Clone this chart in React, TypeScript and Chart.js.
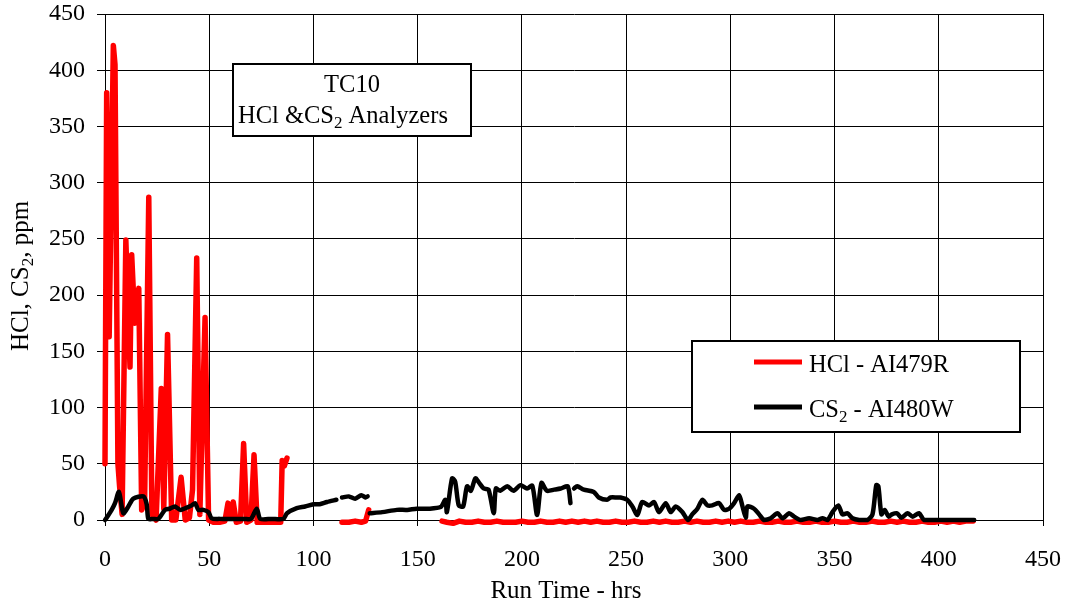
import React, { useEffect, useRef } from "react";
import { Chart, registerables } from "chart.js";

Chart.register(...registerables);

const SERIF = '"Liberation Serif", "Times New Roman", Times, serif';

// ---- Data ----
const hclHours = [
  0, 0.8, 2, 4, 4.8, 6.2, 7, 8.2, 10, 12, 12.8, 14.3, 16.2, 17.6, 19, 21, 22.5, 24.5, 27, 28.2,
  30, 32, 34, 36.5, 38.5, 40.5, 42, 44, 45.5, 48, 49.7, 52, 55, 57.5, 59, 60.3, 61.5, 63, 65,
  66.5, 68, 70, 71.5, 73, 76, 80, 84.3, 85, 86, 87.3, 100,
  113.7, 117, 120, 123, 125, 126.5, 140,
  161.7, 164, 167, 170, 173, 176, 179, 182, 185, 188, 191, 194, 197, 200, 203, 206, 209, 212,
  215, 218, 221, 224, 227, 230, 233, 236, 239, 242, 245, 248, 251, 254, 257, 260, 263, 266,
  269, 272, 275, 278, 281, 284, 287, 290, 293, 296, 299, 302, 305, 308, 311, 314, 317, 320,
  323, 326, 329, 332, 335, 338, 341, 344, 347, 350, 353, 356, 359, 362, 365, 368, 371, 374,
  377, 380, 383, 386, 389, 392, 395, 398, 401, 404, 407, 410, 413, 416.5,
];
const hclValues = [
  50, 380, 163, 422, 405, 50, 30, 5, 249, 136, 236, 175, 206, 9, 15, 287, 5, 0, 117, 10,
  165, 0, 0, 38, 0, 2, 27, 233, 5, 180, 0, -2, -2, -1, 15, 2, 16, -2, -1,
  68, -2, 0, 58, -2, -2, -2, -2, 53, 48, 55, null,
  -2, -2, -1, -2, -1, 9, null,
  -1, -2, -3, -1, -2, -2, -1, -2, -2, -1, -2, -2, -2, -1, -2, -2, -1, -2,
  -2, -1, -2, -1, -2, -1, -2, -1, -2, -2, -1, -2, -2, -1, -2, -2, -1, -2,
  -1, -2, -2, -1, -2, -1, -2, -2, -1, -2, -1, -2, -1, -2, -2, -1, -2, -2,
  -1, -2, -2, -1, -2, -2, -1, -2, -2, -1, -2, -2, -1, -2, -2, -1, -2, -2,
  -1, -2, -1, -2, -2, -1, -2, -2, -1, -2, -1, -2, -1, -1,
];

const cs2Hours = [
  0, 0.8, 3.2, 4.8, 6.7, 8.8, 11.2, 13.6, 18.4, 20, 20.8, 23, 25.6, 28.8, 31, 33.6, 36, 39.2,
  41.6, 43.2, 44.8, 47.2, 49.6, 51.2, 55, 60, 67, 70, 72.8, 74.5, 80, 85.6, 87.3, 92, 96, 100,
  103, 106.5, 111, 112.5,
  113.7, 117, 120, 123, 125, 126, 126.6,
  127, 133, 140, 145, 149.5, 155, 161, 163.3, 164, 166.5, 168, 169.7, 171.8, 173.7, 175.5,
  177.7, 179.5, 181.7, 184, 186.5, 187.5, 189.6, 193, 196, 199.3, 202.5, 205, 207.3, 209.4,
  212, 215.5, 218.6, 222, 223.3, 224.2,
  225, 226.5, 229.7, 234.5, 236.9, 240.9, 242.5, 245.7, 247.3, 250.5, 253, 255.4, 257.7, 261,
  263.4, 265.8, 269, 271.4, 273.8, 277, 279.7, 281.7, 284.2, 286.6, 289, 291.4, 294.6, 297,
  299.4, 301.8, 304.2, 305.7, 307.4, 308.2, 311.4, 313.8, 316.2, 319.4, 322.6, 325, 328.2,
  330.6, 333.8, 337.8, 341.8, 344.2, 346.6, 349, 351.8, 353.8, 356.2, 358.6, 361.8, 365.8,
  368.2, 370, 371, 372.5, 374, 376, 377.5, 380, 382, 385, 387.5, 390.5, 393, 400, 410, 417,
];
const cs2Values = [
  0, 2, 9, 15, 25, 6, 12, 19, 21, 14, 1, 1, 1, 9, 10, 12, 9, 11,
  13, 15, 9, 9, 7, 1.5, 1, 1, 1, 1, 10, 1, 1, 1, 6, 10.5, 12, 14,
  14, 16, 18, null,
  20, 21, 19, 22, 20, 21, null,
  6, 7, 9, 9, 10, 10, 11.5, 18, 7, 37, 34, 13, 12, 30, 26,
  37, 33, 28, 27, 6, 28, 26, 30, 26, 31, 28, 30.5, 4.5, 33,
  26, 27, 28, 30, 15, null,
  28, 30, 27, 25, 20, 18, 20, 20, 20, 18, 12, 4.5, 16, 13,
  16, 7, 15, 7, 12, 7, 0, 5, 10, 18, 13, 13, 15, 9,
  10, 15, 22, 13, 2, 12, 10, 5, 0, 1.5, 6, 1.5, 6,
  3, 0, 1.5, 0, 1.5, 0, 7, 13, 5, 6, 1.5, 0, 0,
  5, 31, 30, 5, 9, 3, 5, 6, 2, 6, 3, 6, 0, 0, 0, 0,
];

const xTickValues = [0, 50, 100, 150, 200, 250, 300, 350, 400, 450];
const yTickValues = [0, 50, 100, 150, 200, 250, 300, 350, 400, 450];

const seriesLabels = ["HCl - AI479R", "CS2 - AI480W"];
const seriesColors = ["#ff0000", "#000000"];
const xTitle = "Run Time - hrs";
const yTitle = "HCl, CS2, ppm";
const boxLines = ["TC10", "HCl &CS2 Analyzers"];

// ---- Rich text helpers (subscript "2" after "CS") ----
type Part = { t: string; sub?: boolean };
function toParts(s: string): Part[] {
  const parts: Part[] = [];
  const re = /CS2/g;
  let last = 0;
  let m: RegExpExecArray | null;
  while ((m = re.exec(s))) {
    parts.push({ t: s.slice(last, m.index) + "CS" });
    parts.push({ t: "2", sub: true });
    last = m.index + 3;
  }
  parts.push({ t: s.slice(last) });
  return parts.filter((p) => p.t.length > 0);
}
function fontFor(size: number, sub?: boolean) {
  return `${sub ? Math.round(size * 0.68) : size}px ${SERIF}`;
}
function richWidth(ctx: CanvasRenderingContext2D, parts: Part[], size: number) {
  let w = 0;
  for (const p of parts) {
    ctx.font = fontFor(size, p.sub);
    w += ctx.measureText(p.t).width;
  }
  return w;
}
function drawRich(ctx: CanvasRenderingContext2D, parts: Part[], x: number, y: number, size: number) {
  let cx = x;
  for (const p of parts) {
    ctx.font = fontFor(size, p.sub);
    ctx.fillText(p.t, cx, p.sub ? y + size * 0.22 : y);
    cx += ctx.measureText(p.t).width;
  }
}

const overlayPlugin = {
  id: "overlay",
  afterDraw(chart: any) {
    const ctx: CanvasRenderingContext2D = chart.ctx;
    ctx.save();
    ctx.textAlign = "left";
    ctx.textBaseline = "alphabetic";
    ctx.fillStyle = "#000";

    // X axis title
    const xp = toParts(xTitle);
    const xw = richWidth(ctx, xp, 25);
    drawRich(ctx, xp, 566 - xw / 2, 598, 25);

    // Y axis title (rotated, with subscript)
    ctx.save();
    ctx.translate(27.5, 276);
    ctx.rotate(-Math.PI / 2);
    const yp = toParts(yTitle);
    const yw = richWidth(ctx, yp, 25);
    drawRich(ctx, yp, -yw / 2, 0, 25);
    ctx.restore();

    // Annotation box
    ctx.fillStyle = "#fff";
    ctx.fillRect(233, 64, 238, 72);
    ctx.strokeStyle = "#000";
    ctx.lineWidth = 2;
    ctx.strokeRect(233, 64, 238, 72);
    ctx.fillStyle = "#000";
    const p0 = toParts(boxLines[0]);
    const w0 = richWidth(ctx, p0, 24.5);
    drawRich(ctx, p0, 352 - w0 / 2, 92, 24.5);
    drawRich(ctx, toParts(boxLines[1]), 238, 123, 24.5);

    // Legend box
    ctx.fillStyle = "#fff";
    ctx.fillRect(692, 341, 328, 91);
    ctx.strokeStyle = "#000";
    ctx.lineWidth = 2;
    ctx.strokeRect(692, 341, 328, 91);
    const rows = [362, 407];
    chart.data.datasets.forEach((ds: any, i: number) => {
      const y = rows[i];
      ctx.strokeStyle = ds.borderColor;
      ctx.lineWidth = 5;
      ctx.beginPath();
      ctx.moveTo(754, y);
      ctx.lineTo(802, y);
      ctx.stroke();
      ctx.fillStyle = "#000";
      drawRich(ctx, toParts(ds.label), 809, y + 10, 24.5);
    });
    ctx.restore();
  },
};

export default function App() {
  const ref = useRef<HTMLCanvasElement | null>(null);

  useEffect(() => {
    const canvas = ref.current;
    if (!canvas) return;
    const tickFont = { family: SERIF, size: 24 };
    const chart = new Chart(canvas, {
      type: "line",
      data: {
        datasets: [
          {
            label: seriesLabels[0],
            data: hclHours.map((x, i) => ({ x, y: hclValues[i] })),
            borderColor: seriesColors[0],
            backgroundColor: seriesColors[0],
            borderWidth: 5.5,
            pointRadius: 0,
            tension: 0,
            clip: false as any,
            order: 1,
            borderJoinStyle: "round",
            borderCapStyle: "round",
            spanGaps: false,
          },
          {
            label: seriesLabels[1],
            data: cs2Hours.map((x, i) => ({ x, y: cs2Values[i] })),
            borderColor: seriesColors[1],
            backgroundColor: seriesColors[1],
            borderWidth: 4.5,
            pointRadius: 0,
            tension: 0.25,
            clip: false as any,
            order: 0,
            borderJoinStyle: "round",
            borderCapStyle: "round",
            spanGaps: false,
          },
        ] as any,
      },
      options: {
        responsive: false,
        animation: false,
        devicePixelRatio: 1,
        layout: { padding: 0 },
        plugins: { legend: { display: false }, tooltip: { enabled: false } },
        scales: {
          x: {
            type: "linear",
            min: 0,
            max: 450,
            afterBuildTicks: (s: any) => {
              s.ticks = xTickValues.map((v) => ({ value: v }));
            },
            afterFit: (s: any) => {
              s.height = 86;
              s.paddingLeft = 0;
              s.paddingRight = 23;
            },
            ticks: { font: tickFont, color: "#000", padding: 19, maxRotation: 0, autoSkip: false },
            grid: { color: "#000", lineWidth: 1, tickLength: 6 },
            border: { color: "#000", width: 1 },
            title: { display: false, text: xTitle },
          },
          y: {
            type: "linear",
            min: 0,
            max: 450,
            afterBuildTicks: (s: any) => {
              s.ticks = yTickValues.map((v) => ({ value: v }));
            },
            afterFit: (s: any) => {
              s.width = 105;
              s.paddingTop = 14;
              s.paddingBottom = 0;
            },
            ticks: { font: tickFont, color: "#000", padding: 12, autoSkip: false },
            grid: { color: "#000", lineWidth: 1, tickLength: 8 },
            border: { color: "#000", width: 1 },
            title: { display: false, text: yTitle },
          },
        },
      } as any,
      plugins: [overlayPlugin],
    });
    return () => chart.destroy();
  }, []);

  return (
    <div style={{ position: "fixed", left: 0, top: 0, width: 1066, height: 606, background: "#fff" }}>
      <canvas ref={ref} width={1066} height={606} style={{ display: "block" }} />
    </div>
  );
}
